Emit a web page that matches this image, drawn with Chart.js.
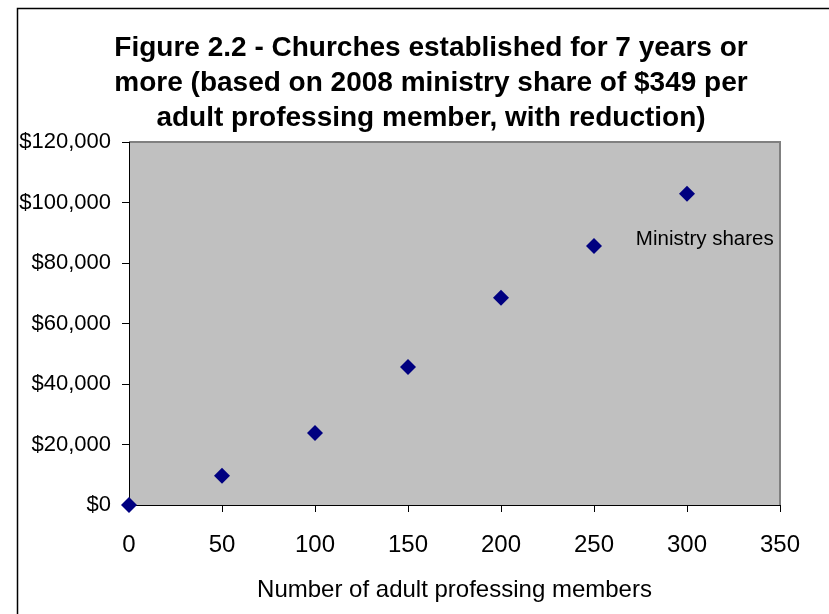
<!DOCTYPE html>
<html>
<head>
<meta charset="utf-8">
<script src="https://cdn.jsdelivr.net/npm/chart.js@4"></script>
<style>
  html, body { margin: 0; padding: 0; background: #fff; }
  #wrap { width: 829px; height: 614px; }
</style>
</head>
<body>
<div id="wrap"><canvas id="diagram" width="829" height="614"></canvas></div>
<script>
// Data
const members = [0, 50, 100, 150, 200, 250, 300];
const shares = [0, 9700, 23800, 45600, 68500, 85600, 102900];
const seriesName = 'Ministry shares';
const titleLines = [
    'Figure 2.2 - Churches established for 7 years or',
    'more (based on 2008 ministry share of $349 per',
    'adult professing member, with reduction)'
];
const xTitle = 'Number of adult professing members';

const FONT = '"Liberation Sans", Arial, sans-serif';

// Frame, plot background and the series label
const decor = {
    id: 'decor',
    beforeDraw(chart) {
        const { ctx, chartArea: a } = chart;
        ctx.save();
        ctx.strokeStyle = '#000';
        ctx.lineWidth = 1.5;
        ctx.beginPath();
        ctx.moveTo(17.5, 614);
        ctx.lineTo(17.5, 8.5);
        ctx.lineTo(829, 8.5);
        ctx.stroke();
        ctx.fillStyle = '#c0c0c0';
        ctx.fillRect(a.left, a.top, a.right - a.left, a.bottom - a.top);
        ctx.strokeStyle = '#808080';
        ctx.lineWidth = 2;
        ctx.beginPath();
        ctx.moveTo(a.left, a.top);
        ctx.lineTo(a.right, a.top);
        ctx.lineTo(a.right, a.bottom);
        ctx.stroke();
        ctx.restore();
    },
    afterDatasetsDraw(chart) {
        const { ctx, scales } = chart;
        ctx.save();
        ctx.font = '20.5px ' + FONT;
        ctx.fillStyle = '#000';
        ctx.textBaseline = 'middle';
        ctx.fillText(seriesName, scales.x.getPixelForValue(272.5), scales.y.getPixelForValue(87800));
        ctx.restore();
    }
};

new Chart(document.getElementById('diagram'), {
    type: 'scatter',
    data: {
        datasets: [{
            label: seriesName,
            data: members.map((m, i) => ({ x: m, y: shares[i] })),
            pointStyle: 'rectRot',
            pointRadius: 8,
            pointHoverRadius: 8,
            backgroundColor: '#000080',
            borderColor: '#000080',
            borderWidth: 0,
            clip: false
        }]
    },
    options: {
        responsive: false,
        animation: false,
        layout: { padding: { left: 33, right: 0, top: 10, bottom: 0 } },
        plugins: {
            legend: { display: false },
            tooltip: { enabled: false },
            title: {
                display: true,
                text: titleLines,
                color: '#000',
                font: { family: FONT, size: 28, weight: 'bold', lineHeight: 1.25 },
                padding: { top: 21, bottom: 6 }
            }
        },
        scales: {
            x: {
                type: 'linear',
                min: 0,
                max: 350,
                ticks: { stepSize: 50, color: '#000', padding: 19, font: { family: FONT, size: 24 } },
                grid: { drawOnChartArea: false, tickLength: 7, color: '#000' },
                border: { color: '#000', width: 1 },
                title: {
                    display: true,
                    text: xTitle,
                    color: '#000',
                    font: { family: FONT, size: 24 },
                    padding: { top: 4, bottom: 9 }
                },
                afterFit: s => { s.height = 109; }
            },
            y: {
                min: 0,
                max: 120000,
                ticks: {
                    stepSize: 20000,
                    color: '#000',
                    padding: 11,
                    font: { family: FONT, size: 22 },
                    callback: v => '$' + v.toLocaleString('en-US')
                },
                grid: { drawOnChartArea: false, tickLength: 7, color: '#000' },
                border: { color: '#000', width: 1 },
                afterFit: s => {
                    s.width = 96;
                    // let the tick labels run past the narrowed axis box
                    s._computeLabelArea = () => undefined;
                }
            },
            y2: {
                position: 'right',
                display: true,
                ticks: { display: false },
                grid: { display: false },
                border: { display: false },
                afterFit: s => { s.width = 49; }
            }
        }
    },
    plugins: [decor]
});
</script>
</body>
</html>
